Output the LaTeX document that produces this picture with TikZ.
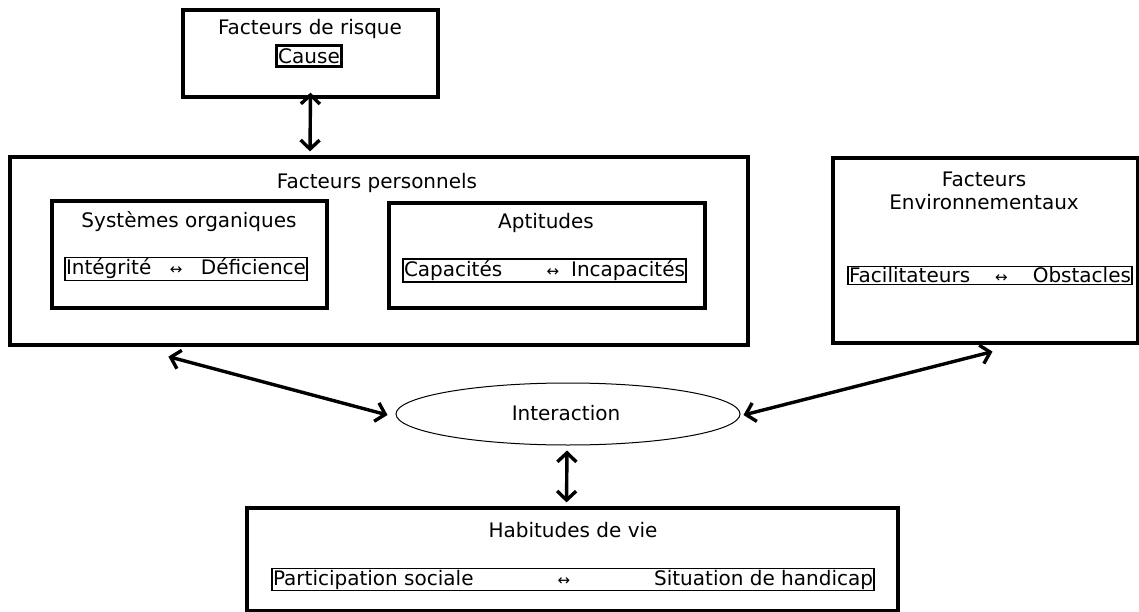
\documentclass[tikz,border=0pt]{standalone}
\usepackage{fontspec}
\setmainfont{DejaVu Sans}
\usetikzlibrary{arrows.meta,shapes.geometric}
\newcommand{\harr}{{\fontsize{15}{15}\selectfont ↔}}
\tikzset{
  txt/.style={inner sep=0pt, font=\fontsize{20}{23}\selectfont, align=center},
  bigbox/.style={draw, line width=3.2pt, inner sep=0pt},
  causebox/.style={draw, line width=2.8pt, inner xsep=2pt, inner ysep=3pt, font=\fontsize{20}{23}\selectfont},
  pairbox/.style={draw, line width=1.3pt, inner xsep=1pt, inner ysep=1.5pt, font=\fontsize{20}{23}\selectfont},
  dbl/.style={line width=3.4pt, {Straight Barb[length=9pt,width=19pt,line width=3.4pt]}-{Straight Barb[length=9pt,width=19pt,line width=3.4pt]}},
}
\begin{document}
\begin{tikzpicture}[x=1pt,y=-1pt]
\useasboundingbox (0,0) rectangle (1139,612);
% Facteurs de risque
\node[bigbox, minimum width=255pt, minimum height=87pt] (risk) at (310.5,53.5) {};
\node[txt] (risktitle) at (310,29) {Facteurs de risque};
\node[causebox] (cause) at (309,56) {Cause};
% Facteurs personnels
\node[bigbox, minimum width=738pt, minimum height=188pt] (perso) at (379,251) {};
\node[txt] (persotitle) at (377,183) {Facteurs personnels};
\node[bigbox, minimum width=275pt, minimum height=107pt] (sys) at (189.5,254.5) {};
\node[txt] (systitle) at (189,222) {Systèmes organiques};
\node[pairbox] (integ) at (186,269) {\hbox to 240pt{Intégrité\hfill\harr\hfill Déficience}};
\node[bigbox, minimum width=316pt, minimum height=105pt] (apt) at (547,255.5) {};
\node[txt] (apttitle) at (546,223) {Aptitudes};
\node[pairbox] (capa) at (544.5,270.5) {\hbox to 281pt{Capacités\hfill\harr\hspace{12pt}Incapacités}};
% Facteurs environnementaux
\node[bigbox, minimum width=305pt, minimum height=185pt] (env) at (985.5,250.5) {};
\node[txt] (envtitle) at (984,191) {Facteurs\\Environnementaux};
\node[pairbox] (facil) at (990,275.5) {\hbox to 282pt{Facilitateurs\hfill\harr\hfill Obstacles}};
% Interaction
\node[draw, ellipse, line width=1pt, minimum width=344pt, minimum height=62pt, inner sep=0pt] (inter) at (568,414) {};
\node[txt] (intertitle) at (566,413) {Interaction};
% Habitudes de vie
\node[bigbox, minimum width=651pt, minimum height=103pt] (hab) at (572.5,559.5) {};
\node[txt] (habtitle) at (573,530) {Habitudes de vie};
\node[pairbox] (partic) at (573,579.5) {\hbox to 600pt{Participation sociale\hfill\harr\hfill Situation de handicap}};
% Connectors
\draw[dbl] ([yshift=6pt]risk.south) -- ([xshift=-69pt,yshift=4pt]perso.north);
\draw[dbl] ([xshift=160pt,yshift=-10pt]perso.south west) -- ([xshift=-8pt,yshift=-1pt]inter.west);
\draw[dbl] ([xshift=3pt,yshift=-1pt]inter.east) -- ([xshift=7pt,yshift=-7pt]env.south);
\draw[dbl] ([xshift=-1pt,yshift=-5pt]inter.south) -- ([xshift=-6pt,yshift=4pt]hab.north);
\end{tikzpicture}
\end{document}
